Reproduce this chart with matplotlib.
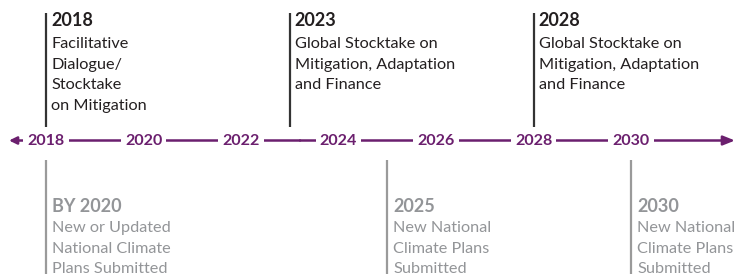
import matplotlib
matplotlib.use("Agg")
import matplotlib.pyplot as plt

# ---- data ----
axis_years = [2018, 2020, 2022, 2024, 2026, 2028, 2030]
top_years = [2018, 2023, 2028]
top_titles = ["2018", "2023", "2028"]
top_texts = [
    ["Facilitative", "Dialogue/", "Stocktake", "on Mitigation"],
    ["Global Stocktake on", "Mitigation, Adaptation", "and Finance"],
    ["Global Stocktake on", "Mitigation, Adaptation", "and Finance"],
]
bottom_years = [2018, 2025, 2030]
bottom_titles = ["BY 2020", "2025", "2030"]
bottom_texts = [
    ["New or Updated", "National Climate", "Plans Submitted"],
    ["New National", "Climate Plans", "Submitted"],
    ["New National", "Climate Plans", "Submitted"],
]

PURPLE = "#6b1f6e"
DARK = "#231f20"
GRAY = "#939598"
LGRAY = "#9a9a9a"
FONT = "Lato"

W, H = 742, 274
fig = plt.figure(figsize=(W / 100, H / 100), dpi=100)
ax = fig.add_axes([0, 0, 1, 1])
px_per_year = 48.75
x0 = 2018 - 46 / px_per_year
ax.set_xlim(x0, x0 + W / px_per_year)
ax.set_ylim(H, 0)
ax.axis("off")

def px(p):
    return p / px_per_year

yline = 140.5
# main timeline with arrows
ax.annotate("", xy=(x0 + px(735), yline), xytext=(x0 + px(300), yline),
            arrowprops=dict(arrowstyle="-|>,head_length=0.7,head_width=0.28",
                            color=PURPLE, lw=1.8, shrinkA=0, shrinkB=0))
ax.annotate("", xy=(x0 + px(9), yline), xytext=(x0 + px(300), yline),
            arrowprops=dict(arrowstyle="-|>,head_length=0.45,head_width=0.22",
                            color=PURPLE, lw=1.8, shrinkA=0, shrinkB=0))

for yr in axis_years:
    ax.text(yr, yline + 0.5, str(yr), ha="center", va="center", color=PURPLE,
            fontsize=11.5, fontweight="bold", family=FONT,
            bbox=dict(boxstyle="square,pad=0.25", fc="white", ec="none"))

# top events
for yr, title, lines in zip(top_years, top_titles, top_texts):
    ax.plot([yr, yr], [13, 127], color="#333333", lw=1.6, solid_capstyle="butt")
    tx = yr + px(5)
    ax.text(tx, 26, title, ha="left", va="baseline", color=DARK,
            fontsize=13, fontweight="bold", family=FONT)
    for i, ln in enumerate(lines):
        ax.text(tx, 48 + i * 20.7, ln, ha="left", va="baseline", color=DARK,
                fontsize=11.7, family=FONT)

# bottom events
for yr, title, lines in zip(bottom_years, bottom_titles, bottom_texts):
    ax.plot([yr, yr], [160, 274], color=LGRAY, lw=1.6, solid_capstyle="butt")
    tx = yr + px(6)
    ax.text(tx, 211.5, title, ha="left", va="baseline", color=GRAY,
            fontsize=13, fontweight="bold", family=FONT)
    for i, ln in enumerate(lines):
        ax.text(tx, 232 + i * 20.7, ln, ha="left", va="baseline", color=GRAY,
                fontsize=11.7, family=FONT)

fig.savefig("out.png", dpi=100)
